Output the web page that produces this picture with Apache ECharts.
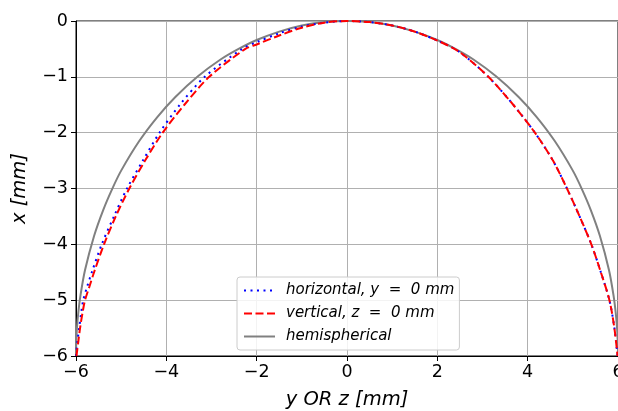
<!DOCTYPE html>
<html>
<head>
<meta charset="utf-8">
<script src="https://cdn.jsdelivr.net/npm/echarts@6/dist/echarts.min.js"></script>
<style>html,body{margin:0;padding:0;background:#fff;}#c{width:618px;height:411px;}</style>
</head>
<body>
<div id="c"></div>
<script>
// horizontal, y = 0 mm  (blue dotted)
const horizYZ = [-6, -5.97, -5.93, -5.88, -5.84, -5.75, -5.65, -5.43, -5.16, -4.87, -4.52, -4.15, -3.70, -3.15, -2.32, -2.0, -1.5, -1.0, -0.5, 0,
                 0.5, 1.0, 1.5, 2.0, 2.48, 3.13, 3.68, 4.16, 4.56, 4.87, 5.15, 5.41, 5.62, 5.81, 5.92, 5.99];
const horizX  = [-6, -5.75, -5.5, -5.2, -5, -4.75, -4.5, -4, -3.5, -3, -2.5, -2, -1.5, -1, -0.5, -0.38, -0.22, -0.10, -0.03, 0,
                 -0.02, -0.08, -0.19, -0.35, -0.55, -1, -1.5, -2, -2.5, -3, -3.5, -4, -4.5, -5, -5.5, -6];
// vertical, z = 0 mm  (red dashed)
const vertYZ = [-5.99, -5.95, -5.91, -5.85, -5.80, -5.70, -5.60, -5.38, -5.12, -4.82, -4.47, -4.08, -3.60, -3.05, -2.25, -2.0, -1.5, -1.0, -0.5, 0,
                0.5, 1.0, 1.5, 2.0, 2.48, 3.13, 3.68, 4.16, 4.56, 4.87, 5.15, 5.41, 5.62, 5.81, 5.92, 5.99];
const vertX  = [-6, -5.75, -5.5, -5.2, -5, -4.75, -4.5, -4, -3.5, -3, -2.5, -2, -1.5, -1, -0.5, -0.42, -0.26, -0.12, -0.03, 0,
                -0.02, -0.08, -0.19, -0.35, -0.55, -1, -1.5, -2, -2.5, -3, -3.5, -4, -4.5, -5, -5.5, -6];
// hemispherical (gray solid)
const hemiYZ = [-6, -5.995, -5.98, -5.95, -5.9, -5.8, -5.6, -5.4, -5.2, -5.0, -4.6, -4.2, -3.8, -3.3, -2.8, -2.4, -2.0, -1.5, -1.0, -0.5, 0,
                0.5, 1.0, 1.5, 2.0, 2.4, 2.8, 3.3, 3.8, 4.2, 4.6, 5.0, 5.2, 5.4, 5.6, 5.8, 5.9, 5.95, 5.98, 5.995, 6];
const hemiX  = [-6, -5.76, -5.51, -5.23, -4.91, -4.46, -3.85, -3.39, -3.01, -2.68, -2.15, -1.72, -1.36, -0.99, -0.69, -0.50, -0.34, -0.19, -0.08, -0.02, 0,
                -0.02, -0.08, -0.19, -0.34, -0.50, -0.69, -0.99, -1.36, -1.72, -2.15, -2.68, -3.01, -3.39, -3.85, -4.46, -4.91, -5.23, -5.51, -5.76, -6];
const seriesNames = ['horizontal, y  =  0 mm', 'vertical, z  =  0 mm', 'hemispherical'];
const xTicks = [-6, -4, -2, 0, 2, 4, 6];
const yTicks = [-6, -5, -4, -3, -2, -1, 0];

const pairs = (a, b) => a.map((v, i) => [v, b[i]]);
const fmt = v => (v < 0 ? '\u2212' + Math.abs(v) : String(v));
const FONT = 'DejaVu Sans';

const chart = echarts.init(document.getElementById('c'), null, {renderer: 'canvas'});
chart.setOption({
  animation: false,
  backgroundColor: '#fff',
  grid: {left: 76, right: 0, top: 21, bottom: 55, outerBoundsMode: 'none', containLabel: false,
         show: true, borderColor: '#000', borderWidth: 1, backgroundColor: 'transparent'},
  legend: {
    orient: 'vertical', left: 237, top: 277,
    padding: [6, 5, 6, 6], itemGap: 8, itemWidth: 31, itemHeight: 14,
    backgroundColor: 'rgba(255,255,255,0.85)', borderColor: '#cccccc', borderWidth: 1, borderRadius: 3,
    itemStyle: {opacity: 0},
    formatter: name => '{t|' + name + '}',
    textStyle: {fontFamily: FONT, fontStyle: 'italic', fontSize: 15, color: '#000',
      rich: {t: {fontFamily: FONT, fontStyle: 'italic', fontSize: 15, color: '#000', padding: [0, 0, 0, 6]}}},
    data: seriesNames
  },
  xAxis: {
    type: 'value', min: xTicks[0], max: xTicks[xTicks.length - 1], interval: 2,
    name: 'y OR z [mm]', nameLocation: 'middle', nameGap: 34,
    nameTextStyle: {fontFamily: FONT, fontStyle: 'italic', fontSize: 19.5, color: '#000'},
    axisLine: {show: true, onZero: false, lineStyle: {color: '#000', width: 1}},
    axisTick: {show: true, length: 5, lineStyle: {color: '#000'}},
    axisLabel: {formatter: fmt, fontFamily: FONT, fontSize: 17.5, color: '#000', margin: 7},
    splitLine: {show: true, lineStyle: {color: '#b0b0b0', width: 1}}
  },
  yAxis: {
    type: 'value', min: yTicks[0], max: yTicks[yTicks.length - 1], interval: 1,
    name: 'x [mm]', nameLocation: 'middle', nameGap: 46,
    nameTextStyle: {fontFamily: FONT, fontStyle: 'italic', fontSize: 19.5, color: '#000'},
    axisLine: {show: true, onZero: false, lineStyle: {color: '#000', width: 1}},
    axisTick: {show: true, length: 5, lineStyle: {color: '#000'}},
    axisLabel: {formatter: fmt, fontFamily: FONT, fontSize: 17.5, color: '#000', margin: 8},
    splitLine: {show: true, lineStyle: {color: '#b0b0b0', width: 1}}
  },
  series: [
    {name: seriesNames[0], type: 'line', data: pairs(horizYZ, horizX), showSymbol: false, symbol: 'none', smooth: 0.3, z: 3,
     lineStyle: {color: '#0000ff', width: 2, type: [2, 4.5]}, itemStyle: {color: '#0000ff'}},
    {name: seriesNames[1], type: 'line', data: pairs(vertYZ, vertX), showSymbol: false, symbol: 'none', smooth: 0.3, z: 4,
     lineStyle: {color: '#ff0000', width: 2, type: [8, 3.5]}, itemStyle: {color: '#ff0000'}},
    {name: seriesNames[2], type: 'line', data: pairs(hemiYZ, hemiX), showSymbol: false, symbol: 'none', smooth: 0.3, z: 2,
     lineStyle: {color: '#808080', width: 2}, itemStyle: {color: '#808080'}}
  ]
});
</script>
</body>
</html>
